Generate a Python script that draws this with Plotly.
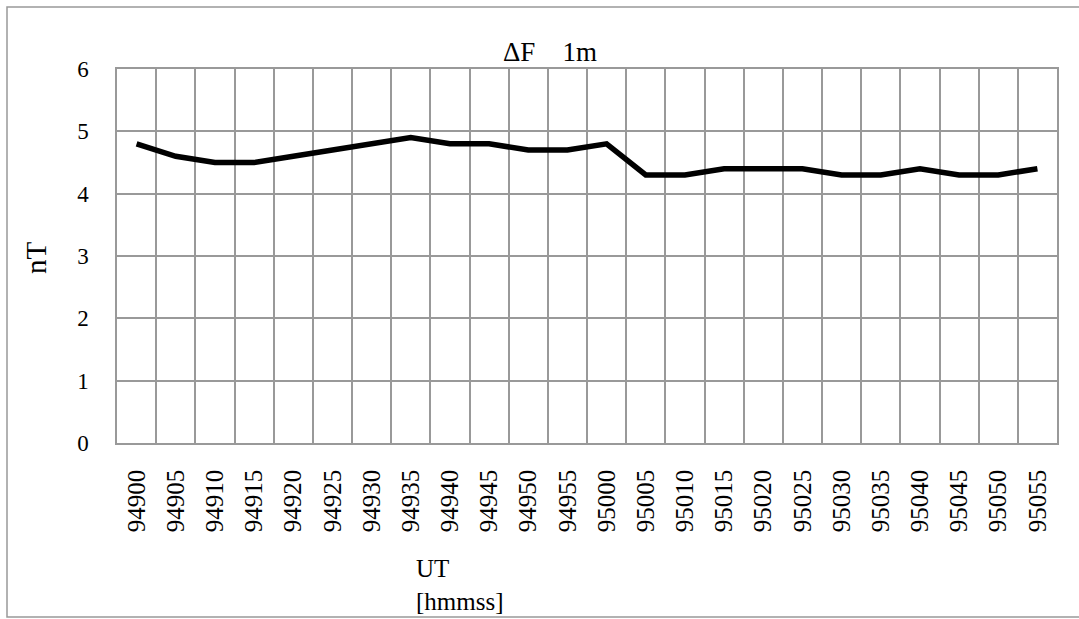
import plotly.graph_objects as go

categories = ["94900", "94905", "94910", "94915", "94920", "94925", "94930", "94935",
              "94940", "94945", "94950", "94955", "95000", "95005", "95010", "95015",
              "95020", "95025", "95030", "95035", "95040", "95045", "95050", "95055"]
values = [4.8, 4.6, 4.5, 4.5, 4.6, 4.7, 4.8, 4.9,
          4.8, 4.8, 4.7, 4.7, 4.8, 4.3, 4.3, 4.4,
          4.4, 4.4, 4.3, 4.3, 4.4, 4.3, 4.3, 4.4]
y_ticks = [0, 1, 2, 3, 4, 5, 6]

W, H = 1079, 619
L, R, T, B = 117, 22, 69, 176
pw, ph = W - L - R, H - T - B

def px(x):
    return (x - L) / pw

def py(y):
    return (H - B - y) / ph

FONT = "Liberation Serif"
GRID = "#999999"

fig = go.Figure()
fig.add_trace(go.Scatter(x=categories, y=values, mode="lines",
                         line=dict(color="black", width=5.5), showlegend=False,
                         hoverinfo="skip"))

fig.update_layout(
    width=W, height=H,
    margin=dict(l=L, r=R, t=T, b=B),
    paper_bgcolor="white", plot_bgcolor="white",
    font=dict(family=FONT, color="black"),
    xaxis=dict(type="category", tickson="boundaries", showgrid=True,
               range=[-0.5, len(categories) - 0.5],
               gridcolor=GRID, gridwidth=1.5, showline=True, linecolor=GRID,
               linewidth=1.5, mirror=True, ticks="", tickangle=-90,
               tickfont=dict(size=25, family=FONT), ticklabelstandoff=15,
               zeroline=False),
    yaxis=dict(range=[0, 6], tickvals=y_ticks, showgrid=True, gridcolor=GRID,
               gridwidth=1.5, showline=True, linecolor=GRID, linewidth=1.5,
               mirror=True, ticks="", tickfont=dict(size=23, family=FONT),
               ticklabelstandoff=22, zeroline=False),
    annotations=[
        dict(text="ΔF\u00a0\u00a0\u00a0 1m", x=px(550), y=py(52), xref="paper", yref="paper",
             xanchor="center", yanchor="middle", showarrow=False,
             font=dict(size=27, family=FONT)),
        dict(text="nT", x=px(36), y=py(258), xref="paper", yref="paper",
             xanchor="center", yanchor="middle", showarrow=False, textangle=-90,
             font=dict(size=29, family=FONT)),
        dict(text="UT<br>[hmmss]", x=px(414), y=py(553), xref="paper", yref="paper",
             xanchor="left", yanchor="top", showarrow=False, align="left",
             font=dict(size=25, family=FONT)),
    ],
    shapes=[
        dict(type="rect", xref="paper", yref="paper",
             x0=px(7), x1=px(1085), y0=py(617), y1=py(7),
             line=dict(color=GRID, width=1.5), fillcolor="rgba(0,0,0,0)", layer="below"),
    ],
)

fig.write_html("out.html", config={"displayModeBar": False},
               post_script="document.body.style.margin='0';document.body.style.overflow='hidden';")
